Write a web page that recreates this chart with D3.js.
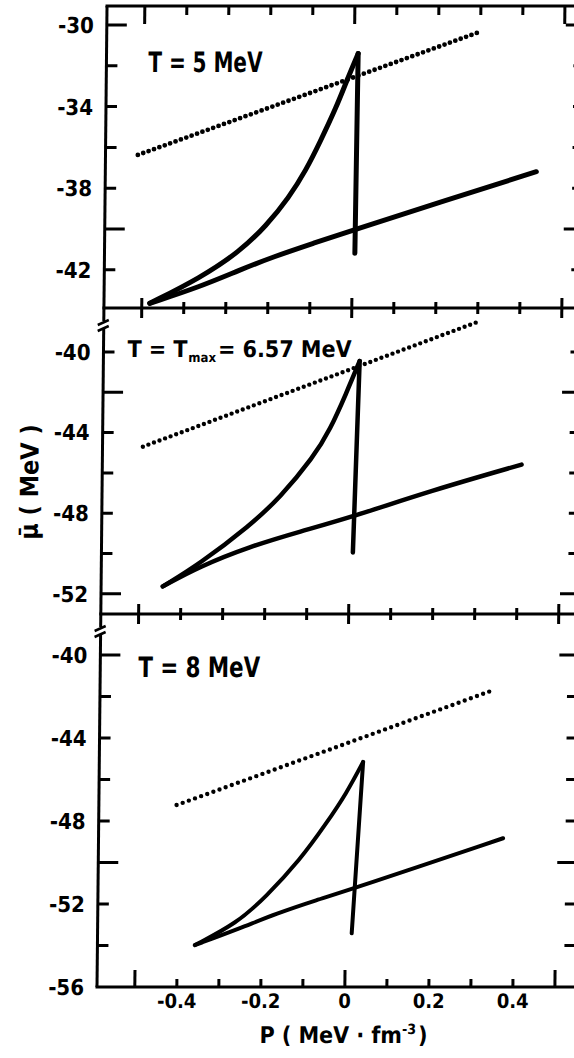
<!DOCTYPE html>
<html>
<head>
<meta charset="utf-8">
<script src="https://cdn.jsdelivr.net/npm/d3@7"></script>
<style>
  body { margin: 0; background: #fff; }
  text { font-family: "Liberation Sans Narrow", "DejaVu Sans Condensed", sans-serif; font-weight: bold; fill: #000; }
</style>
</head>
<body>
<div id="chart"></div>
<script>
// x axis (pressure, MeV fm^-3)
let arrXDomain = [-0.59, 0.555];
let arrXTicks = [-0.5, -0.4, -0.3, -0.2, -0.1, 0, 0.1, 0.2, 0.3, 0.4, 0.5];
let arrXMajor = [-0.5, 0, 0.5];
let arrXLabels = [-0.4, -0.2, 0, 0.2, 0.4];

// T = 5 MeV
let arrYDom5 = [-43.87, -29.07];
let arrYTicks5 = [-30, -32, -34, -36, -38, -40, -42];
let arrYLab5 = [-30, -34, -38, -42];
let arrYLong5 = [-30, -40];
let arrDot5 = [[-0.513, -36.37], [0.291, -30.39]];
let arrUpper5 = [[-0.481, -43.64], [-0.362, -42.40], [-0.268, -41.10], [-0.206, -39.85], [-0.152, -38.45],
  [-0.112, -37.10], [-0.080, -35.75], [-0.041, -34.0], [-0.018, -32.75], [0.009, -31.40]];
let arrLower5 = [[-0.481, -43.64], [-0.362, -42.83], [-0.268, -42.01], [-0.188, -41.36], [-0.093, -40.70],
  [0.001, -40.05], [0.223, -38.58], [0.436, -37.19]];
let arrSpin5 = [[0.009, -31.40], [0.006, -41.19]];

// T = Tmax = 6.57 MeV
let arrYDom657 = [-53.0, -37.82];
let arrYTicks657 = [-40, -42, -44, -46, -48, -50, -52];
let arrYLab657 = [-40, -44, -48, -52];
let arrYLong657 = [-42, -52];
let arrDot657 = [[-0.494, -44.70], [0.300, -38.51]];
let arrUpper657 = [[-0.443, -51.63], [-0.355, -50.50], [-0.237, -48.60], [-0.167, -47.25], [-0.087, -45.20],
  [-0.049, -43.87], [-0.011, -42.05], [0.020, -40.45]];
let arrLower657 = [[-0.443, -51.63], [-0.356, -50.64], [-0.237, -49.65], [-0.118, -48.91], [0.008, -48.17],
  [0.190, -46.90], [0.408, -45.59]];
let arrSpin657 = [[0.020, -40.45], [0.0085, -49.95]];

// T = 8 MeV
let arrYDom8 = [-56, -38.02];
let arrYTicks8 = [-40, -42, -44, -46, -48, -50, -52, -54];
let arrYLab8 = [-40, -44, -48, -52, -56];
let arrYLong8 = [-40, -50];
let arrDot8 = [[-0.405, -47.23], [0.346, -41.69]];
let arrUpper8 = [[-0.358, -53.98], [-0.259, -52.93], [-0.190, -51.65], [-0.110, -49.88], [-0.048, -48.11],
  [-0.001, -46.67], [0.038, -45.15]];
let arrLower8 = [[-0.358, -53.98], [-0.251, -53.17], [-0.164, -52.45], [-0.070, -51.81], [0.021, -51.24],
  [0.373, -48.83]];
let arrSpin8 = [[0.038, -45.15], [0.015, -53.41]];

// page size & frame
let intTotalWid = 574;
let intTotalHgt = 1058;
let intLeft = 97, intRight = 578, intBottom = 987;

let arrPanel = [
  {top: 6, bottom: 308, dom: arrYDom5, ticks: arrYTicks5, lab: arrYLab5, long: arrYLong5,
   dot: arrDot5, up: arrUpper5, low: arrLower5, spin: arrSpin5, lw: 5, dw: 4.8, gap: 5.7},
  {top: 308, bottom: 614, dom: arrYDom657, ticks: arrYTicks657, lab: arrYLab657, long: arrYLong657,
   dot: arrDot657, up: arrUpper657, low: arrLower657, spin: arrSpin657, lw: 4.5, dw: 4.4, gap: 5.9},
  {top: 614, bottom: 987, dom: arrYDom8, ticks: arrYTicks8, lab: arrYLab8, long: arrYLong8,
   dot: arrDot8, up: arrUpper8, low: arrLower8, spin: arrSpin8, lw: 4, dw: 4.4, gap: 6.5}
];

let svg = d3.select("#chart")
  .append("svg")
  .attr("width", intTotalWid)
  .attr("height", intTotalHgt);

// the scanned figure leans slightly: top is shifted ~10px to the right
let g = svg.append("g")
  .attr("transform", `translate(0,${intBottom}) skewX(-0.585) translate(0,${-intBottom})`);

let fnX = d3.scaleLinear().domain(arrXDomain).range([intLeft, intRight]);

// frame
g.append("line").attr("x1", intLeft).attr("x2", intLeft).attr("y1", 6).attr("y2", intBottom)
  .attr("stroke", "#000").attr("stroke-width", 3);
g.append("line").attr("x1", intRight).attr("x2", intRight).attr("y1", 6).attr("y2", intBottom)
  .attr("stroke", "#000").attr("stroke-width", 3);
[6, 308, 614, intBottom].forEach((y, i) => {
  g.append("line").attr("x1", intLeft - 1.5).attr("x2", intRight + 20).attr("y1", y).attr("y2", y)
    .attr("stroke", "#000").attr("stroke-width", 3);
  // x ticks on each horizontal border
  g.selectAll(null)
    .data(arrXTicks)
    .enter()
    .append("line")
    .attr("x1", d => fnX(d)).attr("x2", d => fnX(d))
    .attr("y1", d => {
      let big = arrXMajor.includes(d);
      if (i === 0) return y;
      if (i === 3) return y - (big ? 17 : 8);
      return y - (big ? 10 : 6);
    })
    .attr("y2", d => {
      let big = arrXMajor.includes(d);
      if (i === 0) return y + (big ? 18 : 9);
      if (i === 3) return y;
      return y + (big ? 10 : 6);
    })
    .attr("stroke", "#000").attr("stroke-width", 3);
});

// x tick labels
g.selectAll(".xlab")
  .data(arrXLabels)
  .enter()
  .append("text")
  .attr("class", "xlab")
  .attr("x", d => fnX(d))
  .attr("y", 1008)
  .attr("text-anchor", "middle")
  .attr("font-size", 20)
  .text(d => d === 0 ? "0" : d.toFixed(1));

// x title
let objXT = g.append("text")
  .attr("x", 344)
  .attr("y", 1043)
  .attr("text-anchor", "middle")
  .attr("font-size", 23);
objXT.append("tspan").text("P ( MeV · fm");
objXT.append("tspan").attr("dy", -9).attr("font-size", 14).text("-3");
objXT.append("tspan").attr("dy", 9).attr("dx", 2).text(")");

// y title
g.append("text")
  .attr("transform", "translate(33,482) rotate(-90)")
  .attr("text-anchor", "middle")
  .attr("font-size", 25)
  .text("\u03BC\u0304 ( MeV )");

let fnLine = d3.line();

arrPanel.forEach((p, i) => {
  let fnY = d3.scaleLinear().domain(p.dom).range([p.bottom, p.top]);
  fnLine.x(d => fnX(d[0])).y(d => fnY(d[1]));

  // y ticks left & right
  g.selectAll(null)
    .data(p.ticks)
    .enter()
    .append("line")
    .attr("x1", intLeft).attr("x2", d => intLeft + (p.long.includes(d) ? 20 : 11))
    .attr("y1", d => fnY(d)).attr("y2", d => fnY(d))
    .attr("stroke", "#000").attr("stroke-width", 3);
  g.selectAll(null)
    .data(p.ticks)
    .enter()
    .append("line")
    .attr("x1", intRight).attr("x2", d => intRight - (p.long.includes(d) ? 22 : 14))
    .attr("y1", d => fnY(d)).attr("y2", d => fnY(d))
    .attr("stroke", "#000").attr("stroke-width", 3);

  g.selectAll(null)
    .data(p.lab)
    .enter()
    .append("text")
    .attr("x", intLeft - 13)
    .attr("y", d => fnY(d))
    .attr("dy", "0.36em")
    .attr("text-anchor", "end")
    .attr("font-size", 22)
    .text(d => String(d));

  // dotted line
  g.append("path")
    .attr("d", fnLine.curve(d3.curveLinear)(p.dot))
    .attr("fill", "none")
    .attr("stroke", "#000")
    .attr("stroke-width", p.dw)
    .attr("stroke-linecap", "round")
    .attr("stroke-dasharray", `0 ${p.gap}`);

  // solid branches: two smooth ones and the near-vertical one
  [p.up, p.low].forEach(arr => {
    g.append("path")
      .attr("d", fnLine.curve(d3.curveBasis)(arr))
      .attr("fill", "none")
      .attr("stroke", "#000")
      .attr("stroke-width", p.lw)
      .attr("stroke-linecap", "round")
      .attr("stroke-linejoin", "round");
  });
  g.append("path")
    .attr("d", fnLine.curve(d3.curveLinear)(p.spin))
    .attr("fill", "none")
    .attr("stroke", "#000")
    .attr("stroke-width", p.lw)
    .attr("stroke-linecap", "round");

  // axis break marks
  if (i > 0) {
    let yb = p.top + 16;
    g.append("rect").attr("x", intLeft - 3).attr("y", yb - 3).attr("width", 6).attr("height", 7).attr("fill", "#fff");
    [0, 6].forEach(o => {
      g.append("line")
        .attr("x1", intLeft - 6).attr("y1", yb + o + 1)
        .attr("x2", intLeft + 5).attr("y2", yb + o - 4)
        .attr("stroke", "#000").attr("stroke-width", 2.5);
    });
  }
});

// panel titles
g.append("text").attr("x", 139).attr("y", 72).attr("font-size", 28)
  .attr("textLength", 114).attr("lengthAdjust", "spacingAndGlyphs").text("T = 5 MeV");

let objT2 = g.append("text").attr("x", 121).attr("y", 357).attr("font-size", 23);
objT2.append("tspan").text("T = T");
objT2.append("tspan").attr("dy", 5).attr("dx", 1).attr("font-size", 13).text("max");
objT2.append("tspan").attr("dy", -5).attr("dx", 2).text("= 6.57 MeV");

g.append("text").attr("x", 135).attr("y", 677).attr("font-size", 28)
  .attr("textLength", 122).attr("lengthAdjust", "spacingAndGlyphs").text("T = 8 MeV");
</script>
</body>
</html>
